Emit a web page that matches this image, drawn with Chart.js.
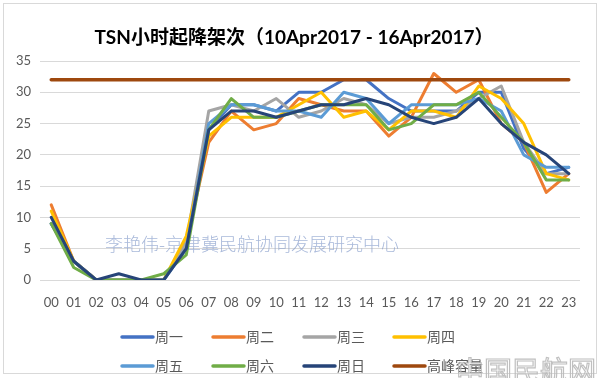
<!DOCTYPE html>
<html><head><meta charset="utf-8">
<script src="https://cdn.jsdelivr.net/npm/chart.js@4"></script>
<style>html,body{margin:0;padding:0;background:#fff}#wrap{width:600px;height:378px;position:relative}</style>
</head><body><div id="wrap"><canvas id="c" width="600" height="378"></canvas></div>
<script>
const titleText = 'TSN小时起降架次（10Apr2017 - 16Apr2017）';
const hours = ['00','01','02','03','04','05','06','07','08','09','10','11','12','13','14','15','16','17','18','19','20','21','22','23'];
const seriesNames = ['周一','周二','周三','周四','周五','周六','周日','高峰容量'];
const seriesColors = ['#4472C4','#ED7D31','#A5A5A5','#FFC000','#5B9BD5','#70AD47','#264478','#9E480E'];
const mon = [9,3,0,0,0,0,6,24,28,28,27,30,30,32,32,29,27,27,27,30,30,21,17,18];
const tue = [12,3,0,0,0,0,6,22,27,24,25,29,28,27,27,23,26,33,30,32,25,22,14,17];
const wed = [9,3,0,0,0,0,6,27,28,27,29,26,27,29,28,25,26,26,27,29,31,22,17,17];
const thu = [11,3,0,0,0,0,7,23,26,26,26,28,30,26,27,24,27,27,26,31,29,25,17,16];
const fri = [9,3,0,0,0,0,5,25,28,28,27,27,26,30,29,25,28,28,28,29,27,20,18,18];
const sat = [9,2,0,0,0,1,4,24,29,26,26,27,28,28,28,24,25,28,28,30,26,22,16,16];
const sun = [10,3,0,1,0,0,5,24,27,27,26,27,28,28,29,28,26,25,26,29,25,22,20,17];
const capacity = [32,32,32,32,32,32,32,32,32,32,32,32,32,32,32,32,32,32,32,32,32,32,32,32];
const seriesValues = [mon,tue,wed,thu,fri,sat,sun,capacity];
const yMin = 0, yMax = 35, yStep = 5;
const watermarkText = '李艳伟-京津冀民航协同发展研究中心';
const logoText = '中国民航网';

const CJK = "'Noto Sans CJK SC'";
const LAT = "Lato, 'Noto Sans CJK SC', sans-serif";

const datasets = seriesNames.map((name, i) => ({
  label: name,
  data: seriesValues[i],
  borderColor: seriesColors[i],
  backgroundColor: seriesColors[i],
  borderWidth: i === 7 ? 3.5 : 3,
  pointRadius: 0,
  tension: 0,
  fill: false,
  borderJoinStyle: 'round',
  borderCapStyle: 'round',
  order: seriesNames.length - i
}));

const decor = {
  id: 'decor',
  beforeDraw(chart) {
    const ctx = chart.ctx;
    ctx.save();
    ctx.fillStyle = '#fff';
    ctx.fillRect(0, 0, 600, 378);
    ctx.strokeStyle = '#D9D9D9';
    ctx.lineWidth = 1;
    ctx.strokeRect(3.5, 3.5, 593, 370);
    ctx.fillStyle = '#000';
    ctx.font = 'bold 19px ' + LAT;
    ctx.textAlign = 'center';
    ctx.textBaseline = 'middle';
    ctx.fillText(titleText, 294, 38);
    ctx.restore();
  },
  beforeDatasetsDraw(chart) {
    const ctx = chart.ctx;
    ctx.save();
    ctx.fillStyle = 'rgba(140,162,206,0.75)';
    ctx.font = '300 18px ' + CJK;
    ctx.textAlign = 'left';
    ctx.textBaseline = 'middle';
    ctx.fillText(watermarkText, 105, 244);
    ctx.restore();
  },
  afterDraw(chart) {
    const ctx = chart.ctx;
    ctx.save();
    const colX = [122, 213, 304, 394];
    const rowY = [337, 366];
    ctx.font = '14px ' + CJK;
    ctx.textBaseline = 'middle';
    ctx.textAlign = 'left';
    chart.data.datasets.forEach((ds, i) => {
      const x = colX[i % 4], y = rowY[Math.floor(i / 4)];
      ctx.strokeStyle = ds.borderColor;
      ctx.lineWidth = 3.5;
      ctx.lineCap = 'round';
      ctx.beginPath();
      ctx.moveTo(x, y);
      ctx.lineTo(x + 31, y);
      ctx.stroke();
      ctx.fillStyle = '#595959';
      ctx.fillText(ds.label, x + 33, y);
    });
    ctx.font = '28px ' + CJK;
    ctx.strokeStyle = 'rgba(185,185,185,0.9)';
    ctx.lineWidth = 1.2;
    ctx.textAlign = 'left';
    ctx.textBaseline = 'alphabetic';
    ctx.strokeText(logoText, 456, 382);
    ctx.restore();
  }
};

new Chart(document.getElementById('c'), {
  type: 'line',
  data: { labels: hours, datasets },
  options: {
    responsive: false,
    animation: false,
    devicePixelRatio: 1,
    layout: { padding: { top: 61, right: 20, bottom: 58, left: 0 } },
    plugins: { legend: { display: false }, title: { display: false }, tooltip: { enabled: false } },
    scales: {
      x: {
        type: 'category',
        offset: true,
        grid: { display: false, drawTicks: false },
        border: { display: false },
        ticks: { color: '#595959', font: { family: LAT, size: 13 }, padding: 15, maxRotation: 0, autoSkip: false },
        afterFit(s) { s.height = 40; }
      },
      y: {
        min: yMin, max: yMax,
        grid: { color: '#D9D9D9', lineWidth: 1, drawTicks: false },
        border: { display: false },
        ticks: { stepSize: yStep, color: '#595959', font: { family: LAT, size: 13 }, padding: 9 },
        afterFit(s) { s.width = 40; }
      }
    }
  },
  plugins: [decor]
});
</script>
</body></html>
